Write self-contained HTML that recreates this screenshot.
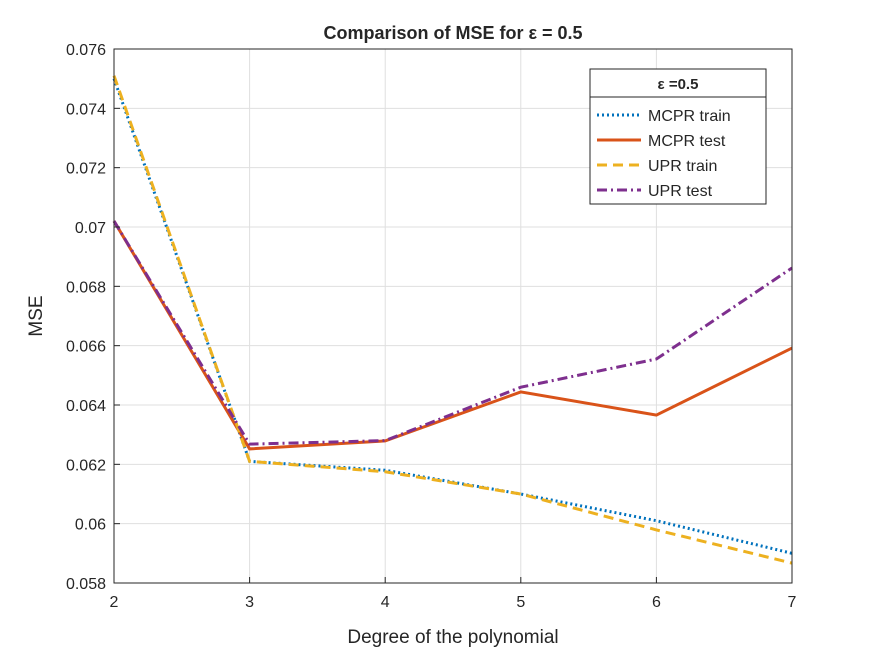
<!DOCTYPE html>
<html><head><meta charset="utf-8"><style>
body{margin:0;background:#fff;}
svg text{font-family:"Liberation Sans",Arial,sans-serif;fill:#262626;}
</style></head><body>
<svg id="chart" width="875" height="656" xmlns="http://www.w3.org/2000/svg">
<rect width="875" height="656" fill="#fff"/>
<g id="grid"></g>
<g id="series"></g>
<rect x="114" y="49" width="678" height="534" fill="none" stroke="#262626" stroke-width="1"/>
<g id="ticks"></g>
<text x="453" y="39" text-anchor="middle" font-size="18" font-weight="bold">Comparison of MSE for ε = 0.5</text>
<text x="453" y="643" text-anchor="middle" font-size="19">Degree of the polynomial</text>
<text x="42" y="316" text-anchor="middle" font-size="19" transform="rotate(-90 42 316)">MSE</text>
<g>
<rect x="590" y="69" width="176" height="135" fill="#fff" stroke="#262626" stroke-width="1"/>
<line x1="590" y1="97" x2="766" y2="97" stroke="#262626" stroke-width="1"/>
<text x="678" y="89" text-anchor="middle" font-size="15" font-weight="bold">ε =0.5</text>
<g id="legend-entries"></g>
</g>
</svg>
<script>
const categories=[2,3,4,5,6,7];
const mcprTrain=[0.0750,0.0621,0.0618,0.0610,0.0601,0.0590];
const mcprTest=[0.0702,0.06252,0.06279,0.06444,0.06366,0.06592];
const uprTrain=[0.0751,0.0621,0.06175,0.0610,0.05979,0.05867];
const uprTest=[0.0702,0.06268,0.0628,0.0646,0.06555,0.06862];
const yTicks=[0.058,0.06,0.062,0.064,0.066,0.068,0.07,0.072,0.074,0.076];
const yTickLabels=["0.058","0.06","0.062","0.064","0.066","0.068","0.07","0.072","0.074","0.076"];
const NS="http://www.w3.org/2000/svg";
const X0=114,X1=792,Y0=583,Y1=49;
const xs=v=>X0+(v-2)/5*(X1-X0);
const ys=v=>Y0-(v-0.058)/0.018*(Y0-Y1);
function mk(t,a,p){const e=document.createElementNS(NS,t);for(const k in a)e.setAttribute(k,a[k]);p.appendChild(e);return e;}
const grid=document.getElementById('grid'),ticks=document.getElementById('ticks');
categories.forEach(c=>{
 const g=mk('line',{x1:xs(c),x2:xs(c),y1:Y1,y2:Y0,stroke:'#dfdfdf','stroke-width':1},grid);
 
 
 const t=mk('text',{x:xs(c),y:Y0+24,'text-anchor':'middle','font-size':16},ticks);t.textContent=c;
 
 
 mk('line',{x1:xs(c),x2:xs(c),y1:Y0,y2:Y0-6,stroke:'#262626'},ticks);
});
yTicks.forEach((v,i)=>{
 const g=mk('line',{x1:X0,x2:X1,y1:ys(v),y2:ys(v),stroke:'#dfdfdf','stroke-width':1},grid);
 
 
 const t=mk('text',{x:X0-8,y:ys(v)+6,'text-anchor':'end','font-size':16},ticks);t.textContent=yTickLabels[i];
 
 
 mk('line',{x1:X0,x2:X0+6,y1:ys(v),y2:ys(v),stroke:'#262626'},ticks);
});
const specs=[
 {d:mcprTrain,c:'#0072BD',dash:'2,3',name:'MCPR train',n:'line-mcpr-train'},
 {d:mcprTest,c:'#D95319',dash:'',name:'MCPR test',n:'line-mcpr-test'},
 {d:uprTrain,c:'#EDB120',dash:'10,6',name:'UPR train',n:'line-upr-train'},
 {d:uprTest,c:'#7E2F8E',dash:'10,4,2,4',name:'UPR test',n:'line-upr-test'}];
const sg=document.getElementById('series'),lg=document.getElementById('legend-entries');
specs.forEach((s,i)=>{
 const pts=s.d.map((v,j)=>xs(categories[j])+','+ys(v)).join(' ');
 const p=mk('polyline',{points:pts,fill:'none',stroke:s.c,'stroke-width':3,'stroke-dasharray':s.dash},sg);
 
 
 const y=115+i*25;
 const l=mk('line',{x1:597,x2:641,y1:y,y2:y,stroke:s.c,'stroke-width':3,'stroke-dasharray':s.dash},lg);
 
 
 const t=mk('text',{x:648,y:y+6,'font-size':16},lg);t.textContent=s.name;
 
 
});
</script>
</body></html>
